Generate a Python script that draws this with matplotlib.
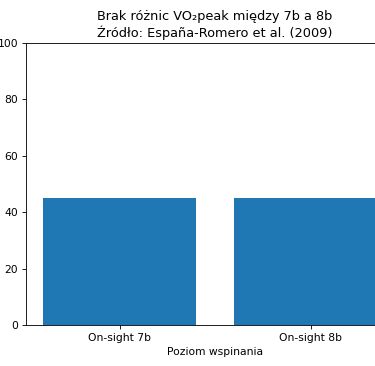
import matplotlib
matplotlib.use("Agg")
import matplotlib.pyplot as plt

# data
categories = ["On-sight 7b", "On-sight 8b"]
vo2peak = [45, 45]

DPI = 77.5
fig = plt.figure(figsize=(375 / DPI, 366 / DPI), dpi=DPI)
# axes run past the right edge, as in the reference (clipped figure)
ax = fig.add_axes([0.069, 0.112, 1.009, 0.7705])

ax.bar(categories, vo2peak, color="#1f77b4")
ax.set_ylim(0, 100)
ax.set_xlabel("Poziom wspinania")
ax.set_title("Brak różnic VO₂peak między 7b a 8b\nŹródło: España-Romero et al. (2009)")

fig.savefig("out.png", dpi=DPI)
